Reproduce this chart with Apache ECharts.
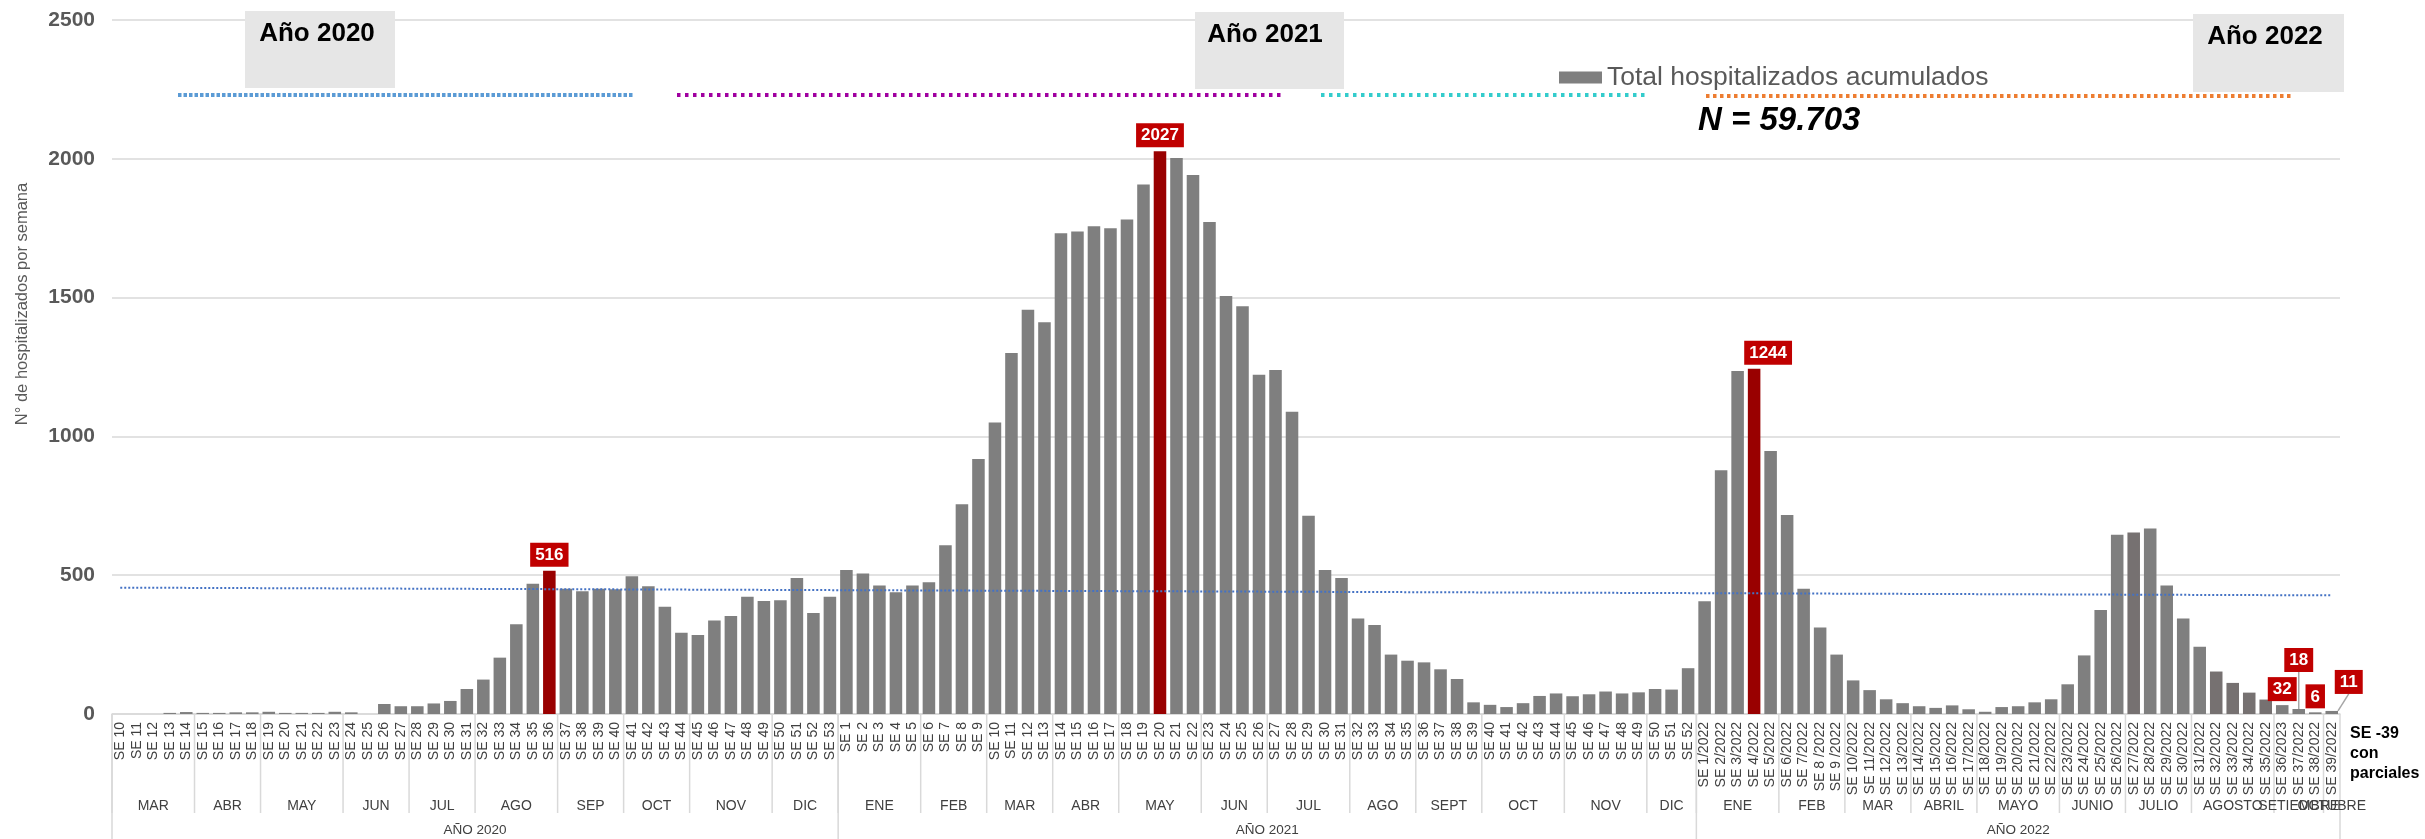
<!DOCTYPE html>
<html>
<head>
<meta charset="utf-8">
<script src="https://cdn.jsdelivr.net/npm/echarts/dist/echarts.min.js"></script>
<style>
  html, body { margin: 0; padding: 0; background: #ffffff; }
  #chart { width: 2425px; height: 839px; }
</style>
</head>
<body>
<div id="chart"></div>
<script>
// Epidemiological weeks (tick labels) per year
const weeks2020 = ['SE 10','SE 11','SE 12','SE 13','SE 14','SE 15','SE 16','SE 17','SE 18','SE 19','SE 20','SE 21','SE 22','SE 23','SE 24','SE 25','SE 26','SE 27','SE 28','SE 29','SE 30','SE 31','SE 32','SE 33','SE 34','SE 35','SE 36','SE 37','SE 38','SE 39','SE 40','SE 41','SE 42','SE 43','SE 44','SE 45','SE 46','SE 47','SE 48','SE 49','SE 50','SE 51','SE 52','SE 53'];
const weeks2021 = ['SE 1','SE 2','SE 3','SE 4','SE 5','SE 6','SE 7','SE 8','SE 9','SE 10','SE 11','SE 12','SE 13','SE 14','SE 15','SE 16','SE 17','SE 18','SE 19','SE 20','SE 21','SE 22','SE 23','SE 24','SE 25','SE 26','SE 27','SE 28','SE 29','SE 30','SE 31','SE 32','SE 33','SE 34','SE 35','SE 36','SE 37','SE 38','SE 39','SE 40','SE 41','SE 42','SE 43','SE 44','SE 45','SE 46','SE 47','SE 48','SE 49','SE 50','SE 51','SE 52'];
const weeks2022 = ['SE 1/2022','SE 2/2022','SE 3/2022','SE 4/2022','SE 5/2022','SE 6/2022','SE 7/2022','SE 8 /2022','SE 9 /2022','SE 10/2022','SE 11/2022','SE 12/2022','SE 13/2022','SE 14/2022','SE 15/2022','SE 16/2022','SE 17/2022','SE 18/2022','SE 19/2022','SE 20/2022','SE 21/2022','SE 22/2022','SE 23/2022','SE 24/2022','SE 25/2022','SE 26/2022','SE 27/2022','SE 28/2022','SE 29/2022','SE 30/2022','SE 31/2022','SE 32/2022','SE 33/2022','SE 34/2022','SE 35/2022','SE 36/2023','SE 37/2022','SE 38/2022','SE 39/2022'];

// Hospitalized per week
const hosp2020 = [0,0,0,4,7,4,4,6,6,8,4,4,4,8,6,0,36,28,28,38,47,90,124,203,323,469,516,451,442,451,449,496,460,386,293,285,337,353,422,407,410,490,364,422];
const hosp2021 = [519,506,463,439,463,475,608,756,919,1050,1300,1456,1411,1732,1738,1757,1750,1781,1907,2027,2003,1942,1772,1506,1469,1222,1239,1089,714,519,490,344,321,214,192,186,161,126,42,33,25,39,65,74,64,71,81,74,78,90,88,165];
const hosp2022 = [406,878,1236,1244,947,717,451,312,214,121,86,53,39,28,22,31,17,8,25,28,42,53,107,211,375,646,654,668,463,344,242,153,112,77,52,32,18,6,11];

// Month groups (label, number of weeks)
const months2020 = ['MAR','ABR','MAY','JUN','JUL','AGO','SEP','OCT','NOV','DIC'];
const monthSpan2020 = [5,4,5,4,4,5,4,4,5,4];
const months2021 = ['ENE','FEB','MAR','ABR','MAY','JUN','JUL','AGO','SEPT','OCT','NOV','DIC'];
const monthSpan2021 = [5,4,4,4,5,4,5,4,4,5,5,3];
const months2022 = ['ENE','FEB','MAR','ABRIL','MAYO','JUNIO','JULIO','AGOSTO','SETIEMBRE','OCTUBRE'];
const monthSpan2022 = [5,4,4,4,5,4,4,5,3,1];
const yearLabels = ['AÑO 2020','AÑO 2021','AÑO 2022'];

const yTicks = [0, 500, 1000, 1500, 2000, 2500];
const seriesName = 'Total hospitalizados acumulados';
const totalLabel = 'N = 59.703';
const partialWeeks = 4;            // last weeks still partial, labelled
const darkerWeeks2022 = ['SE 27/2022','SE 32/2022','SE 33/2022','SE 34/2022','SE 35/2022'];

const FONT = '"Liberation Sans", Arial, sans-serif';
const categories = weeks2020.concat(weeks2021, weeks2022);
const values = hosp2020.concat(hosp2021, hosp2022);
const n = values.length;

// Linear trend (least squares) across all weeks
const xMean = (n - 1) / 2;
const yMean = values.reduce((a, b) => a + b, 0) / n;
let sxy = 0, sxx = 0;
values.forEach((v, i) => { sxy += (i - xMean) * (v - yMean); sxx += (i - xMean) * (i - xMean); });
const slope = sxy / sxx;
const trend = values.map((v, i) => +(yMean + slope * (i - xMean)).toFixed(2));

// Peak week of each year gets the dark red highlight
const offsets = [0, hosp2020.length, hosp2020.length + hosp2021.length];
const peakIdx = [hosp2020, hosp2021, hosp2022].map((arr, k) => offsets[k] + arr.indexOf(Math.max(...arr)));

const tagLabel = {
  show: true, position: 'top', distance: 4,
  backgroundColor: '#C00000', color: '#FFFFFF', fontWeight: 'bold',
  fontSize: 17, padding: [4, 5, 3, 5], fontFamily: FONT
};

const barData = values.map((v, i) => {
  const item = { value: v };
  if (peakIdx.includes(i)) {
    item.itemStyle = { color: '#990000' };
    item.label = tagLabel;
  } else if (i >= n - partialWeeks) {
    item.label = tagLabel;
    if (i === n - 3 || i === n - 1) {
      item.labelLine = { show: true, lineStyle: { color: '#A6A6A6', width: 1.5 } };
    }
  }
  if (darkerWeeks2022.includes(categories[i]) && i >= offsets[2]) {
    item.itemStyle = { color: '#767171' };
  }
  return item;
});

const chart = echarts.init(document.getElementById('chart'), null, { renderer: 'canvas' });

const grid = { left: 112, right: 85, top: 20, bottom: 125 };

function periodLine(x1, x2, y, color, dash) {
  return {
    type: 'line', z: 50,
    shape: { x1: x1, y1: y, x2: x2, y2: y },
    style: { stroke: color, lineWidth: 4, lineDash: dash }
  };
}
function yearBox(x, y, w, h, text, tx, ty) {
  return [
    { type: 'rect', z: 60, shape: { x: x, y: y, width: w, height: h }, style: { fill: '#E6E6E6' } },
    { type: 'text', z: 61, x: tx, y: ty,
      style: { text: text, fill: '#000000', font: 'bold 26px ' + FONT, align: 'center', verticalAlign: 'middle' } }
  ];
}

const staticGraphics = [].concat(
  yearBox(245, 11, 150, 77, 'Año 2020', 317, 34),
  yearBox(1195, 12, 149, 77, 'Año 2021', 1265, 35),
  yearBox(2193, 14, 151, 78, 'Año 2022', 2265, 37),
  [
    periodLine(178, 634, 95, '#5B9BD5', [3.5, 2]),
    periodLine(677, 1281, 95, '#A000A0', [3.5, 4.5]),
    periodLine(1321, 1646, 95, '#33CCCC', [3.5, 4.5]),
    periodLine(1706, 2294, 96, '#ED7D31', [3.5, 3.5]),
    { type: 'text', z: 61, x: 1698, y: 121,
      style: { text: totalLabel, fill: '#000000', font: 'italic bold 33px ' + FONT, verticalAlign: 'middle' } },
    { type: 'text', z: 61, x: 22, y: 304, rotation: Math.PI / 2,
      style: { text: 'N° de hospitalizados por semana', fill: '#595959', font: '16.5px ' + FONT,
               align: 'center', verticalAlign: 'middle' } },
    { type: 'text', z: 61, x: 2350, y: 724,
      style: { text: 'SE -39\ncon\nparciales', fill: '#000000', font: 'bold 16px ' + FONT, lineHeight: 20 } }
  ]
);

chart.setOption({
  animation: false,
  textStyle: { fontFamily: FONT },
  grid: grid,
  legend: {
    data: [seriesName], left: 1559, top: 64, padding: 0,
    icon: 'rect', itemWidth: 43, itemHeight: 12,
    textStyle: { fontSize: 26.5, color: '#595959', fontFamily: FONT }
  },
  xAxis: {
    type: 'category', data: categories,
    axisTick: { show: false },
    axisLine: { lineStyle: { color: '#D9D9D9', width: 1.5 } },
    axisLabel: { rotate: 90, interval: 0, fontSize: 14, color: '#404040', margin: 8, fontFamily: FONT }
  },
  yAxis: {
    type: 'value', min: yTicks[0], max: yTicks[yTicks.length - 1], interval: yTicks[1] - yTicks[0],
    axisLine: { show: false }, axisTick: { show: false },
    axisLabel: { fontSize: 21, fontWeight: 'bold', color: '#595959', margin: 17, fontFamily: FONT,
                 formatter: v => String(v) },
    splitLine: { lineStyle: { color: '#D9D9D9', width: 1.5 } }
  },
  series: [
    {
      name: seriesName, type: 'bar', data: barData,
      barCategoryGap: '24%',
      itemStyle: { color: '#7F7F7F' },
      labelLayout: function (p) {
        if (p.dataIndex === peakIdx[2]) return { dx: 14 };
        if (p.dataIndex === n - 3) return { dy: -33 };
        if (p.dataIndex === n - 1) return { dx: 17, dy: -13 };
        return {};
      },
      z: 2
    },
    {
      name: 'Lineal', type: 'line', data: trend, symbol: 'none', silent: true,
      lineStyle: { color: '#4472C4', width: 2, type: [2, 2] }, z: 5
    }
  ],
  graphic: staticGraphics
});

// Category table under the axis: month and year groups
function buildTable() {
  const px = i => chart.convertToPixel({ xAxisIndex: 0 }, i);
  const band = px(1) - px(0);
  const edge = i => (i <= 0 ? px(0) - band / 2 : (i >= n ? px(n - 1) + band / 2 : (px(i - 1) + px(i)) / 2));
  const axisY = chart.getHeight() - grid.bottom;
  const g = [];
  const lineColor = '#D9D9D9';
  const monthSets = [[months2020, monthSpan2020], [months2021, monthSpan2021], [months2022, monthSpan2022]];
  let start = 0;
  monthSets.forEach(([names, spans], k) => {
    const yearStart = start;
    names.forEach((name, m) => {
      const a = start, b = start + spans[m];
      const xa = edge(a), xb = edge(b);
      g.push({ type: 'line', z: 40, shape: { x1: xa, y1: axisY, x2: xa, y2: axisY + 99 },
               style: { stroke: lineColor, lineWidth: 1.5 } });
      g.push({ type: 'text', z: 41, x: (xa + xb) / 2, y: axisY + 92,
               style: { text: name, fill: '#404040', font: '14px ' + FONT, align: 'center', verticalAlign: 'middle' } });
      start = b;
    });
    const xs = edge(yearStart), xe = edge(start);
    g.push({ type: 'line', z: 40, shape: { x1: xs, y1: axisY, x2: xs, y2: chart.getHeight() },
             style: { stroke: lineColor, lineWidth: 1.5 } });
    g.push({ type: 'text', z: 41, x: (xs + xe) / 2, y: axisY + 116,
             style: { text: yearLabels[k], fill: '#404040', font: '13.5px ' + FONT, align: 'center', verticalAlign: 'middle' } });
  });
  const xEnd = edge(n);
  g.push({ type: 'line', z: 40, shape: { x1: xEnd, y1: axisY, x2: xEnd, y2: chart.getHeight() },
           style: { stroke: lineColor, lineWidth: 1.5 } });
  chart.setOption({ graphic: staticGraphics.concat(g) });
}
buildTable();
</script>
</body>
</html>
